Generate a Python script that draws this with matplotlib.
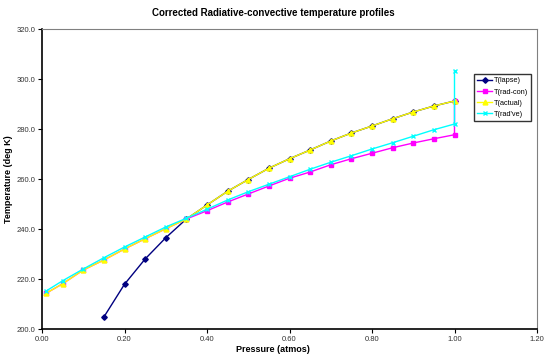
import numpy as np
import matplotlib
matplotlib.use('Agg')
import matplotlib.pyplot as plt
from matplotlib.ticker import FormatStrFormatter, MultipleLocator

plt.rcParams['font.family'] = ['Liberation Sans', 'DejaVu Sans']

# pressure levels (atmos)
pres = [0.01, 0.05, 0.10, 0.15, 0.20, 0.25, 0.30, 0.35, 0.40, 0.45, 0.50,
        0.55, 0.60, 0.65, 0.70, 0.75, 0.80, 0.85, 0.90, 0.95, 1.00]

# T(lapse) starts at 0.15
pres_lapse = pres[3:]
t_lapse = [204.8, 217.9, 228.0, 236.5, 244.0, 249.6, 255.1, 259.8, 264.3,
           268.1, 271.6, 275.2, 278.4, 281.2, 284.1, 286.8, 289.2, 291.2]

# T(rad-con) (extra surface point at 1.00)
pres_rc = pres + [1.00]
t_radcon = [214.3, 218.1, 223.6, 227.6, 232.0, 236.1, 240.1, 244.0, 247.3,
            250.8, 254.0, 257.2, 260.3, 262.8, 265.7, 268.1, 270.3, 272.5,
            274.4, 276.1, 277.7, 291.2]

# T(actual)
t_actual = [214.3, 218.1, 223.6, 227.6, 232.0, 236.1, 240.1, 244.0, 249.6,
            255.1, 259.8, 264.3, 268.1, 271.6, 275.2, 278.4, 281.2, 284.1,
            286.8, 289.2, 291.2]

# T(rad've) (extra surface point at 1.00)
pres_rv = pres + [1.00]
t_radve = [215.2, 219.3, 224.0, 228.5, 232.8, 236.8, 240.8, 244.3, 247.9,
           251.6, 254.9, 257.9, 260.9, 263.9, 266.7, 269.3, 272.0, 274.5,
           277.1, 279.7, 282.0, 303.2]

fig = plt.figure(figsize=(5.46, 3.61), dpi=100)
ax = fig.add_axes([42/546, 1-329/361, (537-42)/546, 300/361])

ax.plot(pres_lapse, t_lapse, color='#000080', lw=1, marker='D', ms=2.8,
        mec='#000080', mfc='#000080', label='T(lapse)')
ax.plot(pres_rc, t_radcon, color='#FF00FF', lw=1, marker='s', ms=2.8,
        mec='#FF00FF', mfc='#FF00FF', label='T(rad-con)')
ax.plot(pres, t_actual, color='#FFFF00', lw=1, marker='^', ms=3.5,
        mec='#FFFF00', mfc='#FFFF00', label='T(actual)')
ax.plot(pres_rv, t_radve, color='#00FFFF', lw=1, marker='x', ms=3.5,
        mew=1, label="T(rad've)")

ax.set_xlim(0, 1.2)
ax.set_ylim(200, 320)
ax.xaxis.set_major_locator(MultipleLocator(0.2))
ax.yaxis.set_major_locator(MultipleLocator(20))
ax.xaxis.set_major_formatter(FormatStrFormatter('%.2f'))
ax.yaxis.set_major_formatter(FormatStrFormatter('%.1f'))
ax.tick_params(labelsize=5.5, length=3, width=0.8, direction='out',
               labelcolor='#333333', pad=2)

for s in ['top', 'right']:
    ax.spines[s].set_color('#808080')
    ax.spines[s].set_linewidth(0.8)
for s in ['left', 'bottom']:
    ax.spines[s].set_color('black')
    ax.spines[s].set_linewidth(1.2)

fig.text(0.5, 1-350/361, 'Pressure (atmos)', ha='center', va='center',
         fontsize=6.5, fontweight='bold')
fig.text(9/546, 1-179/361, 'Temperature (deg K)', ha='center', va='center',
         rotation=90, fontsize=6.5, fontweight='bold')
fig.text(0.5, 1-13/361, 'Corrected Radiative-convective temperature profiles',
         ha='center', va='center', fontsize=7, fontweight='bold')

leg = ax.legend(loc='upper left', bbox_to_anchor=(474/546, 1-74/361),
                bbox_transform=fig.transFigure, borderaxespad=0,
                fontsize=5.3, frameon=True, fancybox=False,
                edgecolor='black', handlelength=2.0, labelspacing=0.55,
                borderpad=0.45, handletextpad=0.25)
leg.get_frame().set_linewidth(1)

fig.savefig('out.png', dpi=100)
